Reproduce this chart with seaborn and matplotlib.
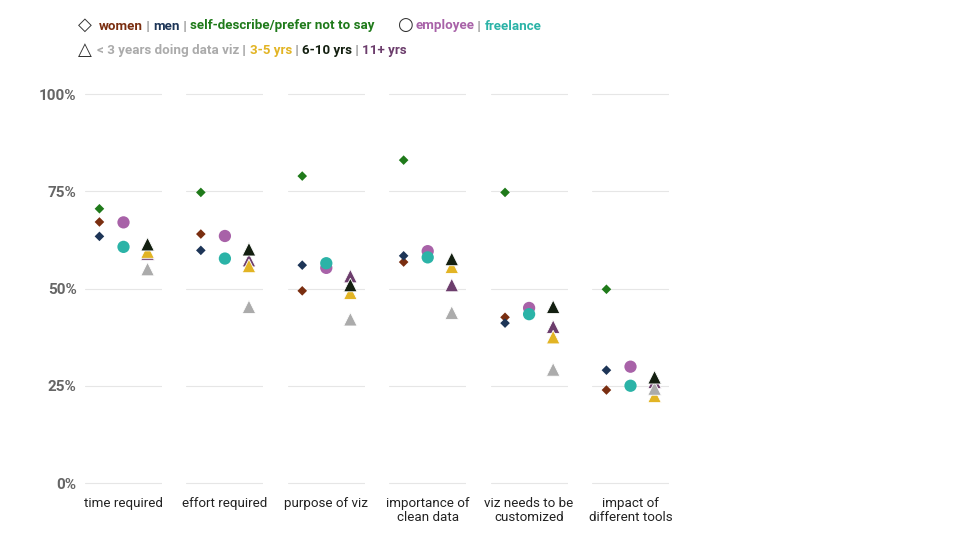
import matplotlib.pyplot as plt
import pandas as pd
import seaborn as sns

# share of respondents (%) per question
questions = ["time required", "effort required", "purpose of viz",
             "importance of\nclean data", "viz needs to be\ncustomized",
             "impact of\ndifferent tools"]

women = [67.1, 64.0, 49.4, 56.8, 42.6, 23.9]
men = [63.4, 59.8, 56.0, 58.4, 41.1, 29.0]
self_describe = [70.5, 74.7, 78.9, 83.0, 74.7, 49.8]
employee = [67.0, 63.5, 55.3, 59.6, 45.0, 29.9]
freelance = [60.7, 57.7, 56.5, 58.0, 43.4, 25.0]
yrs_11_plus = [59.0, 57.3, 53.2, 50.9, 40.2, 26.0]
yrs_3_5 = [59.5, 55.8, 48.9, 55.6, 37.5, 22.4]
yrs_lt_3 = [55.0, 45.3, 42.1, 43.8, 29.2, 24.3]
yrs_6_10 = [61.4, 60.1, 50.9, 57.6, 45.3, 27.2]

y_ticks = [0, 25, 50, 75, 100]
y_tick_labels = ["0%", "25%", "50%", "75%", "100%"]

colors = {
    "women": "#7a2e10",
    "men": "#1d3557",
    "self": "#1f7a1a",
    "employee": "#a862a8",
    "freelance": "#2bb3a7",
    "lt3": "#ababab",
    "3-5": "#e2b424",
    "6-10": "#131f10",
    "11+": "#6c3d6c",
}

# (group key, values, marker kind, column slot) in drawing order
series = [
    ("women", women, "diamond", 0),
    ("men", men, "diamond", 0),
    ("self", self_describe, "diamond", 0),
    ("employee", employee, "circle", 1),
    ("freelance", freelance, "circle", 1),
    ("11+", yrs_11_plus, "triangle", 2),
    ("3-5", yrs_3_5, "triangle", 2),
    ("lt3", yrs_lt_3, "triangle", 2),
    ("6-10", yrs_6_10, "triangle", 2),
]

rows = []
for group, values, kind, slot in series:
    for qi, v in enumerate(values):
        rows.append({"question": qi, "group": group, "kind": kind, "slot": slot, "value": v})
df = pd.DataFrame(rows)

marker_style = {
    "diamond": dict(marker="D", s=24, linewidth=0),
    "circle": dict(marker="o", s=78, linewidth=0),
    "triangle": dict(marker="^", s=95, edgecolor="white", linewidth=0.6),
}

sns.set_theme(style="white")
plt.rcParams["font.family"] = ["Roboto", "DejaVu Sans"]

fig = plt.figure(figsize=(9.6, 5.4), dpi=100)

W, H = 960, 540
px_per_unit = (483 - 94) / 100
ax_bottom = 483 + 3 * px_per_unit
ax_top = 94 - 3 * px_per_unit

for qi, q in enumerate(questions):
    left = 85 + qi * 101.4
    ax = fig.add_axes([left / W, 1 - ax_bottom / H, 77 / W, (ax_bottom - ax_top) / H])
    sub = df[df["question"] == qi]
    for kind, style in marker_style.items():
        part = sub[sub["kind"] == kind]
        sns.scatterplot(data=part, x="slot", y="value", hue="group", palette=colors,
                        ax=ax, legend=False, zorder=3, **style)
    ax.set_xlim(-0.6, 2.6)
    ax.set_ylim(-3, 103)
    ax.set_yticks(y_ticks)
    ax.grid(axis="y", color="#e6e6e6", linewidth=0.8)
    ax.set_axisbelow(True)
    ax.set_xticks([1])
    ax.set_xticklabels([q], fontsize=9.6, color="#222222", linespacing=1.15)
    ax.set_xlabel("")
    ax.set_ylabel("")
    ax.tick_params(axis="both", length=0)
    ax.tick_params(axis="x", pad=1.5)
    if qi == 0:
        ax.set_yticklabels(y_tick_labels, fontsize=11, fontweight="bold", color="#666666")
        ax.tick_params(axis="y", pad=6)
    else:
        ax.set_yticklabels([])
    for sp in ax.spines.values():
        sp.set_visible(False)

# legend built from coloured text pieces
renderer = fig.canvas.get_renderer()
sep_color = "#888888"


def text_row(x, y, pieces):
    for txt, col in pieces:
        t = fig.text(x / W, 1 - y / H, txt, color=col, fontsize=9.6, fontweight="bold",
                     va="baseline", ha="left")
        bb = t.get_window_extent(renderer=renderer)
        x += bb.width


glyph_kw = dict(fontsize=13, color="#333333", va="baseline", ha="left",
                family=["DejaVu Sans"])
fig.text(78 / W, 1 - 30 / H, "\u25c7", **glyph_kw)
fig.text(397 / W, 1 - 30 / H, "\u25cb", **glyph_kw)
fig.text(78 / W, 1 - 55 / H, "\u25b3", **glyph_kw)

text_row(99, 29.5, [("women", colors["women"]), (" | ", sep_color),
                    ("men", colors["men"]), (" | ", sep_color),
                    ("self-describe/prefer not to say", colors["self"])])
text_row(415.5, 29.5, [("employee", colors["employee"]), (" | ", sep_color),
                       ("freelance", colors["freelance"])])
text_row(97, 54, [("< 3 years doing data viz", colors["lt3"]), (" | ", sep_color),
                  ("3-5 yrs", colors["3-5"]), (" | ", sep_color),
                  ("6-10 yrs", colors["6-10"]), (" | ", sep_color),
                  ("11+ yrs", colors["11+"])])

fig.savefig("out.png", dpi=100)
